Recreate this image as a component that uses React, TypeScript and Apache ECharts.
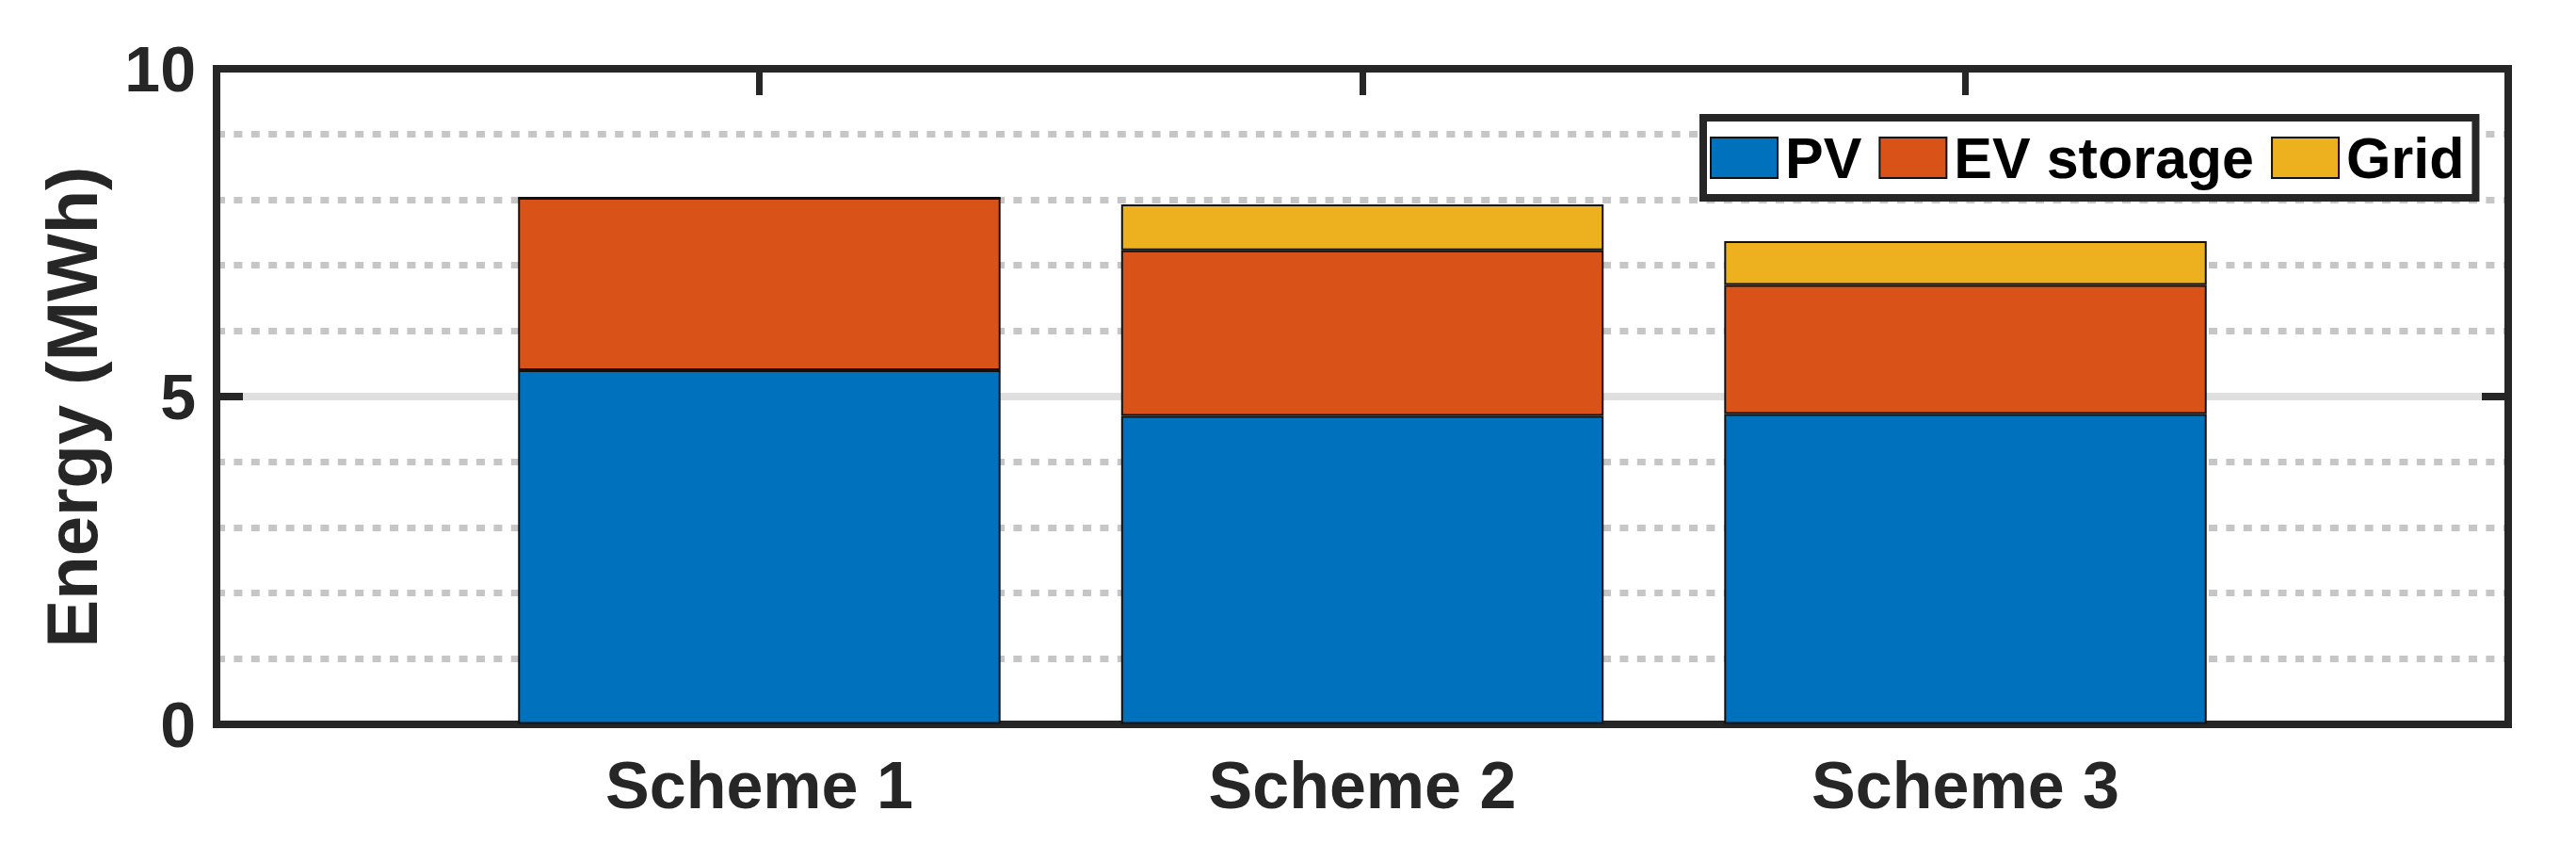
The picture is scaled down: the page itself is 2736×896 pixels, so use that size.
import React, { useEffect, useRef } from "react";
import * as echarts from "echarts";

const categories = ["Scheme 1", "Scheme 2", "Scheme 3"];
const tickPositions = [1, 2, 3];
const pvValues = [5.4, 4.7, 4.73];
const evValues = [2.63, 2.53, 1.97];
const gridValues = [0, 0.7, 0.67];
const yTicks = [0, 5, 10];
const seriesNames = ["PV", "EV storage", "Grid"];
const seriesColors = ["#0072BD", "#D95319", "#EDB120"];

const FONT = "'Liberation Sans', Arial, Helvetica, sans-serif";
const AXIS_COLOR = "#262626";

// frame layout (px)
const W = 2736;
const H = 896;
const PLOT_LEFT = 230;
const PLOT_RIGHT = 2664;
const PLOT_TOP = 73;
const PLOT_BOTTOM = 768.5;
const X_MIN = 0.1;
const X_MAX = 3.9;

export default function App() {
  const ref = useRef<HTMLDivElement>(null);

  useEffect(() => {
    if (!ref.current) return;
    const chart = echarts.init(ref.current, undefined, { renderer: "svg" });
    const allValues = [pvValues, evValues, gridValues];

    // the bar grid covers exactly the category bands centred on x = 1, 2, 3
    const unit = (PLOT_RIGHT - PLOT_LEFT) / (X_MAX - X_MIN);
    const barGridLeft = PLOT_LEFT + (0.5 - X_MIN) * unit;
    const barGridRight = W - (PLOT_LEFT + (3.5 - X_MIN) * unit);

    const series = seriesNames.map((name, i) => ({
      name,
      type: "bar",
      stack: "total",
      xAxisIndex: 2,
      yAxisIndex: 2,
      barWidth: "80%",
      itemStyle: {
        color: seriesColors[i],
        borderColor: "#111",
        borderWidth: 2,
      },
      data: allValues[i],
    }));

    const axisLine = () => ({
      show: true,
      onZero: false,
      lineStyle: { color: AXIS_COLOR, width: 8, cap: "square" },
    });

    chart.setOption({
      animation: false,
      backgroundColor: "#fff",
      textStyle: { fontFamily: FONT },
      grid: [
        {
          left: PLOT_LEFT,
          right: W - PLOT_RIGHT,
          top: PLOT_TOP,
          bottom: H - PLOT_BOTTOM,
          containLabel: false,
        },
        {
          left: barGridLeft,
          right: barGridRight,
          top: PLOT_TOP,
          bottom: H - PLOT_BOTTOM,
          containLabel: false,
        },
      ],
      legend: {
        data: seriesNames,
        left: 1809,
        top: 125,
        orient: "horizontal",
        selectedMode: false,
        icon: "rect",
        itemWidth: 71,
        itemHeight: 43,
        itemGap: 18,
        padding: [12, 12, 12, 7],
        borderWidth: 8,
        borderColor: AXIS_COLOR,
        backgroundColor: "#fff",
        textStyle: {
          fontFamily: FONT,
          fontSize: 61,
          fontWeight: "bold",
          color: "#000",
          padding: [0, 0, 0, 3],
        },
      },
      xAxis: [
        {
          gridIndex: 0,
          type: "value",
          position: "bottom",
          min: X_MIN,
          max: X_MAX,
          axisLine: axisLine(),
          splitLine: { show: false },
          axisTick: {
            show: true,
            inside: true,
            length: 28,
            customValues: tickPositions,
            lineStyle: { color: AXIS_COLOR, width: 7 },
          },
          axisLabel: { show: false },
        },
        {
          gridIndex: 0,
          type: "value",
          position: "top",
          min: X_MIN,
          max: X_MAX,
          axisLine: axisLine(),
          splitLine: { show: false },
          axisTick: {
            show: true,
            inside: true,
            length: 28,
            customValues: tickPositions,
            lineStyle: { color: AXIS_COLOR, width: 7 },
          },
          axisLabel: { show: false },
        },
        {
          gridIndex: 1,
          type: "category",
          position: "bottom",
          data: categories,
          boundaryGap: true,
          axisLine: { show: false },
          axisTick: { show: false },
          splitLine: { show: false },
          axisLabel: {
            show: true,
            interval: 0,
            margin: 30,
            fontFamily: FONT,
            fontSize: 70,
            fontWeight: "bold",
            color: AXIS_COLOR,
          },
        },
      ],
      yAxis: [
        {
          gridIndex: 0,
          type: "value",
          position: "left",
          min: 0,
          max: 10,
          interval: 5,
          axisLine: axisLine(),
          axisTick: {
            show: true,
            inside: true,
            length: 28,
            lineStyle: { color: AXIS_COLOR, width: 8 },
          },
          axisLabel: {
            show: true,
            margin: 22,
            fontFamily: FONT,
            fontSize: 68,
            fontWeight: "bold",
            color: AXIS_COLOR,
            formatter: (v: number) => (yTicks.indexOf(v) >= 0 ? String(v) : ""),
          },
          splitLine: {
            show: true,
            lineStyle: { color: "#dfdfdf", width: 8 },
          },
          minorTick: { show: false, splitNumber: 5 },
          minorSplitLine: {
            show: true,
            lineStyle: { color: "#c6c6c6", width: 7, type: [9, 9.4] },
          },
        },
        {
          gridIndex: 0,
          type: "value",
          position: "right",
          min: 0,
          max: 10,
          interval: 5,
          axisLine: axisLine(),
          axisTick: {
            show: true,
            inside: true,
            length: 28,
            lineStyle: { color: AXIS_COLOR, width: 8 },
          },
          axisLabel: { show: false },
          splitLine: { show: false },
        },
        {
          gridIndex: 1,
          type: "value",
          min: 0,
          max: 10,
          interval: 5,
          show: false,
          splitLine: { show: false },
        },
      ],
      graphic: [
        {
          type: "text",
          x: 76,
          y: 432,
          rotation: Math.PI / 2,
          style: {
            text: "Energy (MWh)",
            fontFamily: FONT,
            fontSize: 76,
            fontWeight: "bold",
            fill: AXIS_COLOR,
            textAlign: "center",
            textVerticalAlign: "middle",
          },
        },
      ],
      series,
    });

    return () => chart.dispose();
  }, []);

  return (
    <div
      ref={ref}
      style={{ position: "absolute", left: 0, top: 0, width: W, height: H }}
    />
  );
}
